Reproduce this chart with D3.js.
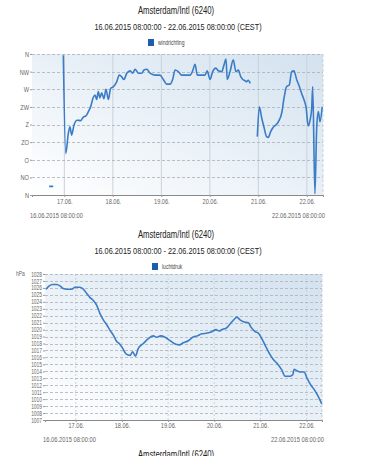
<html>
<head>
<meta charset="utf-8">
<title>Amsterdam/Intl (6240)</title>
<script src="https://d3js.org/d3.v7.min.js"></script>
<style>
  body { margin: 0; background: #fff; }
  text { font-family: "Liberation Sans", Arial, sans-serif; }
</style>
</head>
<body>
<script>
var width = 371, height = 456

// --- data ---
var stationTitle = "Amsterdam/Intl (6240)"
var periodTitle = "16.06.2015 08:00:00 - 22.06.2015 08:00:00 (CEST)"
var startLabel = "16.06.2015 08:00:00"
var endLabel = "22.06.2015 08:00:00"
var totalHours = 144
var dayHours = [16, 40, 64, 88, 112, 136]
var dayLabels = ["17.06.", "18.06.", "19.06.", "20.06.", "21.06.", "22.06."]

var windNames = ["N", "NO", "O", "ZO", "Z", "ZW", "W", "NW", "N"]
var windTicks = [0, 45, 90, 135, 180, 225, 270, 315, 360]

// hours since 16.06 08:00, null = gap
var windHours = [8.5, 10.5, 12,
  15.5, 16.7, 18, 18.8, 19.6, 20.8, 22.4, 24.1, 25.4, 26.7, 27.9, 29, 30.3, 31.2, 32, 32.8, 33.6, 34.5,
  35.6, 36.6, 37.8, 38.9, 40.2, 41.9, 43.2, 44.3, 45.5, 46.9, 48.5, 49.8, 51, 52.6, 54.3, 55.4, 56.8,
  58.4, 60.9, 63.3, 65, 66.6, 68.3, 69.6, 70.8, 72.4, 74.1, 78.2, 79.5, 80.7, 81.8, 85.6, 86.7, 88.1,
  89.4, 91, 92.2, 93.9, 95, 96, 96.6, 98, 99.6, 100.9, 102.1, 103.3, 104.3, 105.4, 106.2, 107, 108, 110,
  111.5, 112.5, 113.7, 114.8, 116.1, 116.9, 118.1, 119.4, 120.7, 121.9, 123.6, 124.7, 126, 127.3, 128.5,
  129.6, 131, 132.3, 133.4, 134.6, 135.6, 136.7, 137.6, 138.4, 138.9, 140, 140.9, 141.7, 142.5, 143.6]
var windDeg = [22, 22, null,
  357, 106, 158, 174, 153, 179, 191, 190, 199, 202, 213, 225, 249, 255, 244, 264, 248, 261,
  246, 270, 244, 272, 276, 289, 306, 302, 295, 311, 317, 311, 321, 311, 311, 319, 321,
  311, 306, 306, 295, 283, 283, 295, 319, 315, 306, 306, 317, 334, 306, 306, 317, 295,
  315, 324, 317, 315, 332, 347, 295, 315, 345, 315, 319, 302, 295, 292, 289, 293, 285, null,
  149, 225, 196, 173, 149, 147, 162, 173, 179, 187, 210, 247, 277, 281, 315,
  317, 294, 277, 260, 243, 225, 176, 191, 221, 277, 3, 174, 213, 187, 225]

var pressHours = [0.5, 2.2, 4, 6.1, 7.8, 9.5, 11.3, 13.9, 15.6, 18.2, 19.6, 21.7, 23.4, 25.1, 26.9, 28.6,
  30.3, 32.1, 33.8, 35.5, 37.3, 38.6, 40.4, 42.1, 44.2, 45.6, 47, 48.5, 51.1, 53.7, 56.3, 58.1, 60.2,
  62.4, 64.6, 67.1, 69.8, 71.9, 74.5, 76.8, 79.2, 81.5, 84.4, 86.7, 88.9, 90.6, 91.9, 94.1, 96.2, 98.8,
  99.7, 101.4, 103.5, 105.7, 107, 109.2, 110.9, 112.7, 114.9, 117, 118.7, 120.8, 123.1, 124.8, 127.4,
  128.8, 129.5, 130.9, 132.6, 134.7, 136.1, 137.8, 139.9, 141.6, 143.9]
var pressHpa = [1025.8, 1026.3, 1026.5, 1026.5, 1026.3, 1025.9, 1025.8, 1025.8, 1026.1, 1026.1, 1025.9,
  1025.2, 1024.6, 1024.2, 1023.5, 1022.3, 1021.4, 1020.7, 1019.9, 1019.2, 1018.3, 1018, 1017.3, 1016.5,
  1016.3, 1016.8, 1016.2, 1017.3, 1018, 1018.7, 1019.1, 1018.9, 1019.1, 1018.9, 1018.5, 1018, 1017.8,
  1018.1, 1018.4, 1018.9, 1019.1, 1019.4, 1019.5, 1019.7, 1020, 1019.8, 1020, 1020.2, 1020.8, 1021.6,
  1021.8, 1021.4, 1021.1, 1021, 1020.4, 1019.7, 1019.5, 1018.7, 1017.5, 1016.4, 1015.7, 1015.1, 1014.2,
  1013.3, 1013.3, 1013.5, 1014.3, 1014.1, 1013.9, 1013.9, 1013.1, 1012.2, 1011.4, 1010.6, 1009.3]
var pressTicks = d3.range(1007, 1029)

var svg = d3.select("body").append("svg")
  .attr("width", width)
  .attr("height", height)

var defs = svg.append("defs")
var grad = defs.append("linearGradient").attr("id", "bg")
  .attr("x1", 0).attr("y1", 1).attr("x2", 1).attr("y2", 0)
grad.append("stop").attr("offset", "0%").attr("stop-color", "#ffffff")
grad.append("stop").attr("offset", "100%").attr("stop-color", "#d3e2ef")

// narrow text like the screenshot
function squeeze(sel, k) {
  sel.each(function() {
    var w = this.getComputedTextLength()
    d3.select(this).attr("textLength", w * k).attr("lengthAdjust", "spacingAndGlyphs")
  })
}

function addText(g, x, y, str, size, anchor, color) {
  var t = g.append("text")
    .attr("x", x).attr("y", y)
    .attr("text-anchor", anchor)
    .attr("font-size", size)
    .attr("fill", color)
    .text(str)
  squeeze(t, 0.77)
  return t
}

function drawChart(cfg) {
  var g = svg.append("g")
  var x = d3.scaleLinear().domain([0, totalHours]).range([cfg.left, cfg.right])
  var y = d3.scaleLinear().domain(cfg.domain).range([cfg.bottom, cfg.top])

  addText(g, 176, cfg.titleY, stationTitle, 10, "middle", "#222222")
  addText(g, 178, cfg.titleY + 16, periodTitle, 9.5, "middle", "#222222")

  g.append("rect")
    .attr("x", cfg.legendX).attr("y", cfg.titleY + 25)
    .attr("width", 6).attr("height", 7)
    .attr("fill", "#1b5eae")
  addText(g, cfg.legendX + 10, cfg.titleY + 31, cfg.seriesName, 6.5, "start", "#444444")

  g.append("rect")
    .attr("x", cfg.left).attr("y", cfg.top)
    .attr("width", cfg.right - cfg.left).attr("height", cfg.bottom - cfg.top)
    .attr("fill", "url(#bg)")

  // vertical day lines
  g.selectAll(".vline").data(dayHours).enter().append("line")
    .attr("x1", d => x(d)).attr("x2", d => x(d))
    .attr("y1", cfg.top).attr("y2", cfg.bottom)
    .attr("stroke", "#c9d2db").attr("stroke-width", 1)
    .attr("stroke-dasharray", cfg.vdash)

  // horizontal grid
  g.selectAll(".hline").data(cfg.ticks).enter().append("line")
    .attr("x1", cfg.left).attr("x2", cfg.right)
    .attr("y1", d => Math.round(y(d)) + 0.5).attr("y2", d => Math.round(y(d)) + 0.5)
    .attr("stroke", "#a9b0b8").attr("stroke-width", 0.8)
    .attr("stroke-dasharray", "3,2")

  g.append("line")
    .attr("x1", cfg.right).attr("x2", cfg.right)
    .attr("y1", cfg.top).attr("y2", cfg.bottom)
    .attr("stroke", "#c9d2db").attr("stroke-dasharray", "3,2")

  // x axis
  var xAxis = g.append("g")
    .attr("transform", "translate(0," + cfg.bottom + ")")
    .call(d3.axisBottom(x).tickValues(dayHours).tickSize(2).tickPadding(0)
      .tickFormat((d, i) => dayLabels[i]))
  xAxis.select(".domain").attr("stroke", "#888")
  xAxis.selectAll(".tick line").attr("stroke", "#999")
  xAxis.selectAll("text").attr("font-size", 7.5).attr("fill", "#666").attr("dy", null)
    .attr("y", cfg.xLabelDy)
  squeeze(xAxis.selectAll("text"), 0.75)

  addText(g, cfg.left - 2, cfg.bottom + cfg.dateDy, startLabel, 7.5, "start", "#666")
  addText(g, cfg.right + 2, cfg.bottom + cfg.dateDy, endLabel, 7.5, "end", "#666")

  // y axis labels
  var yAxis = g.append("g")
    .attr("transform", "translate(" + cfg.left + ",0)")
    .call(d3.axisLeft(y).tickValues(cfg.ticks).tickSize(2).tickPadding(1)
      .tickFormat(cfg.format))
  yAxis.select(".domain").remove()
  yAxis.selectAll(".tick line").attr("stroke", "#999")
  yAxis.selectAll("text").attr("font-size", cfg.ySize).attr("fill", "#666")
  squeeze(yAxis.selectAll("text"), 0.75)
  if (cfg.unit) addText(g, 16, y(cfg.ticks[cfg.ticks.length - 1]) + 2, cfg.unit, cfg.ySize, "start", "#666")

  var line = d3.line()
    .defined(d => d[1] != null)
    .x(d => x(d[0]))
    .y(d => y(d[1]))
    .curve(d3.curveMonotoneX)
  g.append("path")
    .datum(cfg.hours.map((h, i) => [h, cfg.values[i]]))
    .attr("d", line)
    .attr("fill", "none")
    .attr("stroke", "#3a7cc6")
    .attr("stroke-width", 1.6)
    .attr("stroke-linejoin", "round")
}

drawChart({
  titleY: 14, legendX: 148, seriesName: "windrichting",
  left: 32, right: 323, top: 54, bottom: 195, xLabelDy: 9, dateDy: 23,
  domain: [0, 360], ticks: windTicks, format: (d, i) => windNames[i], ySize: 7.5,
  vdash: null, hours: windHours, values: windDeg
})

drawChart({
  titleY: 238, legendX: 152, seriesName: "luchtdruk",
  left: 45, right: 322, top: 274, bottom: 420, xLabelDy: 8, dateDy: 22,
  domain: [1007, 1028], ticks: pressTicks, format: d => d, ySize: 6.5, unit: "hPa",
  vdash: "2,2", hours: pressHours, values: pressHpa
})

// next chart's title, cut off by the window
addText(svg, 176, 458, stationTitle, 10, "middle", "#222222")
</script>
</body>
</html>
